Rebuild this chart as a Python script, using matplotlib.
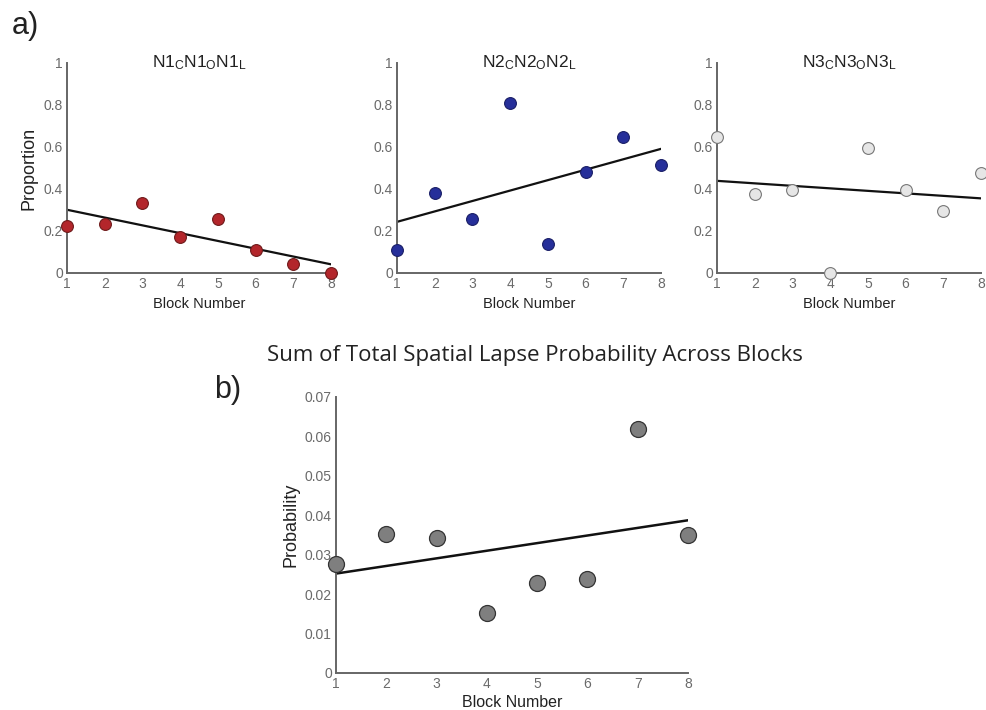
import numpy as np
import matplotlib
matplotlib.use("Agg")
import matplotlib.pyplot as plt

plt.rcParams['font.family'] = ['Liberation Sans', 'DejaVu Sans']
plt.rcParams['mathtext.fontset'] = 'custom'
plt.rcParams['mathtext.rm'] = 'Liberation Sans'
plt.rcParams['mathtext.it'] = 'Liberation Sans'

blocks = [1, 2, 3, 4, 5, 6, 7, 8]
n1_values = [0.225, 0.233, 0.332, 0.173, 0.256, 0.110, 0.041, 0.0]
n2_values = [0.110, 0.380, 0.257, 0.811, 0.137, 0.481, 0.649, 0.514]
n3_values = [0.649, 0.374, 0.393, 0.0, 0.595, 0.393, 0.297, 0.476]
sum_values = [0.0276, 0.0352, 0.0342, 0.0152, 0.0228, 0.0239, 0.0618, 0.0351]

titles = [r'N1$_\mathrm{C}$N1$_\mathrm{O}$N1$_\mathrm{L}$',
          r'N2$_\mathrm{C}$N2$_\mathrm{O}$N2$_\mathrm{L}$',
          r'N3$_\mathrm{C}$N3$_\mathrm{O}$N3$_\mathrm{L}$']
a_yticks = [0, 0.2, 0.4, 0.6, 0.8, 1]
a_yticklabels = ['0', '0.2', '0.4', '0.6', '0.8', '1']
b_yticks = [0, 0.01, 0.02, 0.03, 0.04, 0.05, 0.06, 0.07]
b_yticklabels = ['0', '0.01', '0.02', '0.03', '0.04', '0.05', '0.06', '0.07']

W, H = 986, 710
fig = plt.figure(figsize=(W / 100, H / 100), dpi=100)

def px_axes(left, top, right, bottom):
    return fig.add_axes([left / W, 1 - bottom / H, (right - left) / W, (bottom - top) / H])

axis_col = '#666666'
tick_col = '#6a6a6a'

def style(ax):
    for s in ['top', 'right']:
        ax.spines[s].set_visible(False)
    for s in ['left', 'bottom']:
        ax.spines[s].set_color(axis_col)
        ax.spines[s].set_linewidth(1.4)
    ax.tick_params(length=0, pad=3, labelcolor=tick_col, labelsize=10)
    ax.set_facecolor('none')

series = [n1_values, n2_values, n3_values]
face = ['#b3262b', '#262f9a', '#e6e6e6']
edge = ['#6e1a1a', '#1a1f66', '#777777']
lefts = [67, 397, 717]
x = np.array(blocks, dtype=float)
for i in range(3):
    ax = px_axes(lefts[i], 63, lefts[i] + 264, 273)
    style(ax)
    y = np.array(series[i])
    k, b = np.polyfit(x, y, 1)
    ax.plot(x, k * x + b, color='#111111', lw=1.6, zorder=2)
    ax.plot(x, y, 'o', ms=8.5, mfc=face[i], mec=edge[i], mew=0.8, clip_on=False, zorder=3)
    ax.set_xlim(1, 8)
    ax.set_ylim(0, 1)
    ax.set_xticks(blocks)
    ax.set_yticks(a_yticks)
    ax.set_yticklabels(a_yticklabels)
    ax.set_xlabel('Block Number', fontsize=10.5, labelpad=4, color='#222222')
    if i == 0:
        ax.set_ylabel('Proportion', fontsize=13, labelpad=4, color='#222222')
    ax.text(0.5, 1.0, titles[i], transform=ax.transAxes, ha='center', va='center',
            fontsize=12.5, color='#222222')

axb = px_axes(336, 397, 688, 673)
style(axb)
yb = np.array(sum_values)
k, b = np.polyfit(x, yb, 1)
axb.plot(x, k * x + b, color='#111111', lw=1.8, zorder=2)
axb.plot(x, yb, 'o', ms=11.5, mfc='#7f7f7f', mec='#333333', mew=0.9, clip_on=False, zorder=3)
axb.set_xlim(1, 8)
axb.set_ylim(0, 0.07)
axb.set_xticks(blocks)
axb.set_yticks(b_yticks)
axb.set_yticklabels(b_yticklabels)
axb.set_xlabel('Block Number', fontsize=11.5, labelpad=3, color='#222222')
axb.set_ylabel('Probability', fontsize=13, color='#222222')
axb.yaxis.set_label_coords(-0.105, 0.536)

fig.text(535 / W, 1 - 356 / H, 'Sum of Total Spatial Lapse Probability Across Blocks',
         ha='center', va='center', fontsize=16, family=['Open Sans', 'DejaVu Sans'],
         color='#222222')
fig.text(12 / W, 1 - 26 / H, 'a)', ha='left', va='center', fontsize=22, color='#222222')
fig.text(214 / W, 1 - 390 / H, 'b)', ha='left', va='center', fontsize=22, color='#222222')

fig.savefig('out.png', dpi=100, facecolor='white')
